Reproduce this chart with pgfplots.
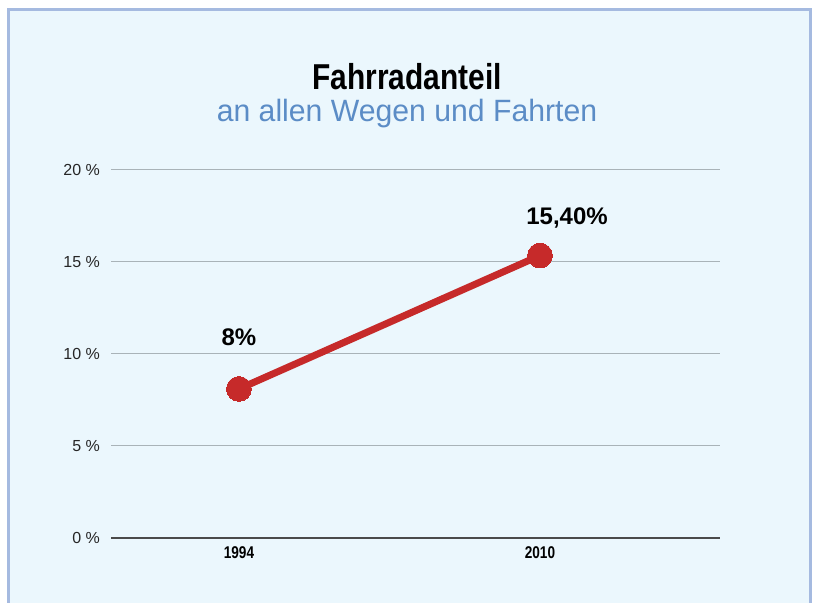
\documentclass[border=0pt]{standalone}
\usepackage{fontspec}
\setmainfont{Liberation Sans}
\newfontfamily\condbold[FakeStretch=0.83]{Liberation Sans Bold}
\newfontfamily\tickbold[FakeStretch=0.8]{Liberation Sans Bold}
\newfontfamily\labbold{Liberation Sans Bold}
\newfontfamily\subfont[FakeStretch=0.98]{Liberation Sans}
\usepackage{pgfplots}
\pgfplotsset{compat=1.18}
\definecolor{bgblue}{HTML}{EBF7FD}
\definecolor{frameblue}{HTML}{A5BAE0}
\definecolor{subblue}{HTML}{5B8CC6}
\definecolor{linered}{HTML}{C62A2A}
\definecolor{gridgray}{HTML}{A9B3B8}
\definecolor{axisgray}{HTML}{4A4A4A}
\begin{document}
\begin{tikzpicture}
\useasboundingbox (0,0) rectangle (409.5pt,301.5pt);
\clip (0,0) rectangle (409.5pt,301.5pt);
\fill[white] (0,0) rectangle (409.5pt,301.5pt);
\draw[frameblue, line width=1.6pt, fill=bgblue] (4.2pt,-10pt) rectangle (405.3pt,296.8pt);
\node[font=\condbold\fontsize{18}{20}\selectfont, text=black, anchor=base, inner sep=0pt] at (203.5pt,256.5pt) {Fahrradanteil};
\node[font=\subfont\fontsize{15.4}{18}\selectfont, text=subblue, anchor=base, inner sep=0pt] at (203.5pt,240.5pt) {an allen Wegen und Fahrten};
\begin{axis}[
  at={(55.5pt,32.5pt)}, anchor=south west,
  scale only axis, width=304.5pt, height=184pt,
  xmin=-0.425, xmax=1.598, ymin=0, ymax=20,
  xtick={0,1}, xticklabels={1994,2010},
  ytick={0,5,10,15,20},
  yticklabel={\pgfmathprintnumber{\tick}~\%},
  /pgf/number format/assume math mode=true,
  axis line style={draw=none},
  axis x line*=bottom, axis y line*=left,
  major tick length=0pt,
  ymajorgrids, grid style={gridgray, line width=0.5pt},
  yticklabel style={font=\fontsize{8}{9.5}\selectfont, text=black!85, xshift=-2pt},
  xticklabel style={font=\tickbold\fontsize{8.5}{10}\selectfont, text=black, yshift=-1pt},
  clip=false,
]
\draw[axisgray, line width=0.8pt] (axis cs:-0.425,0) -- (axis cs:1.598,0);
\addplot[linered, line width=3.5pt, mark=*, mark size=6.2pt, mark options={fill=linered, draw=linered, line width=0pt}]
  coordinates {(0,8.1) (1,15.35)};
\node[font=\labbold\fontsize{12}{14}\selectfont] at (axis cs:0,10.92) {8\%};
\node[font=\labbold\fontsize{12}{14}\selectfont] at (axis cs:1.09,17.39) {15,40\%};
\end{axis}
\end{tikzpicture}
\end{document}
